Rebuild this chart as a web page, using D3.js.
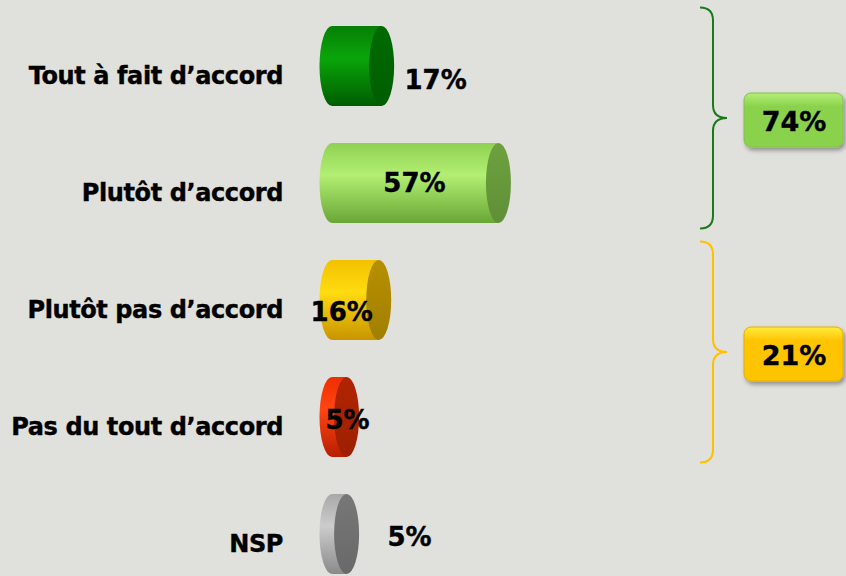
<!DOCTYPE html>
<html>
<head>
<meta charset="utf-8">
<script src="https://cdn.jsdelivr.net/npm/d3@7"></script>
<style>
  html, body { margin: 0; padding: 0; background: #e0e0dc; }
  svg { display: block; }
  text { font-family: "DejaVu Sans", Verdana, sans-serif; font-weight: bold; fill: #000; stroke: #000; stroke-width: 0.4px; }
</style>
</head>
<body>
<div id="chart"></div>
<script>
// Data
var categories = ["Tout à fait d’accord", "Plutôt d’accord", "Plutôt pas d’accord", "Pas du tout d’accord", "NSP"];
var values = [17, 57, 16, 5, 5];
// groups shown with a brace + total box (indexes into categories)
var groups = [[0, 1], [2, 3]];

// Colours: body gradient (top, light, bottom) and end cap
var bodyColors = [
  ["#067f06", "#0aa50a", "#005c00"],
  ["#8fd154", "#b2ef72", "#6aa636"],
  ["#f2c100", "#ffdb10", "#c89400"],
  ["#ee2e00", "#ff4512", "#b81e00"],
  ["#a8a8a8", "#cccccc", "#8a8a8a"]
];
var capColors = ["#006500", "#679a3b", "#ad8800", "#a82200", "#717171"];
var groupColors = [
  {stroke: "#1a7a1a", top: "#b4ee78", bottom: "#8ad24c", border: "#86c04a"},
  {stroke: "#ffc000", top: "#ffec40", bottom: "#ffc400", border: "#e0b000"}
];
// value label shift from the end of the bar (layout, as placed in the original)
var labelShift = [[54, 14], [-84, 0], [-37, 12], [1, 3], [63, 3]];

var width = 846, height = 576;
var rx = 12.5, barH = 80;

var svg = d3.select("#chart").append("svg")
  .attr("width", width)
  .attr("height", height);

svg.append("rect").attr("width", width).attr("height", height).attr("fill", "#e0e0dc");

var defs = svg.append("defs");

var x = d3.scaleLinear().domain([0, 100]).range([332, 624]);
var y = d3.scalePoint().domain(categories).range([66, 534]);
var step = y.step();

// gradients for each bar
categories.forEach(function(c, i){
  var g = defs.append("linearGradient")
    .attr("id", "body" + i)
    .attr("x1", 0).attr("y1", 0).attr("x2", 0).attr("y2", 1);
  g.append("stop").attr("offset", "0%").attr("stop-color", bodyColors[i][0]);
  g.append("stop").attr("offset", "40%").attr("stop-color", bodyColors[i][1]);
  g.append("stop").attr("offset", "100%").attr("stop-color", bodyColors[i][2]);

  var cg = defs.append("linearGradient")
    .attr("id", "cap" + i)
    .attr("x1", 0).attr("y1", 0).attr("x2", 0).attr("y2", 1);
  cg.append("stop").attr("offset", "0%").attr("stop-color", d3.color(capColors[i]).brighter(0.15));
  cg.append("stop").attr("offset", "100%").attr("stop-color", d3.color(capColors[i]).darker(0.2));
});

groupColors.forEach(function(gc, i){
  var g = defs.append("linearGradient")
    .attr("id", "box" + i)
    .attr("x1", 0).attr("y1", 0).attr("x2", 0).attr("y2", 1);
  g.append("stop").attr("offset", "0%").attr("stop-color", gc.top);
  g.append("stop").attr("offset", "25%").attr("stop-color", gc.bottom);
  g.append("stop").attr("offset", "100%").attr("stop-color", gc.bottom);
});

var shadow = defs.append("filter").attr("id", "shadow")
  .attr("x", "-20%").attr("y", "-20%").attr("width", "150%").attr("height", "160%");
shadow.append("feDropShadow")
  .attr("dx", 2).attr("dy", 3).attr("stdDeviation", 2)
  .attr("flood-color", "#000").attr("flood-opacity", 0.35);

// Category labels
svg.selectAll(".cat")
  .data(categories)
  .enter()
  .append("text")
  .attr("class", "cat")
  .attr("x", 283)
  .attr("y", function(d){ return y(d) + 18; })
  .attr("text-anchor", "end")
  .style("font-size", "24px")
  .style("letter-spacing", "-0.4px")
  .text(function(d){ return d; });

// Cylinders
var bars = svg.selectAll(".bar")
  .data(values)
  .enter()
  .append("g")
  .attr("class", "bar");

bars.append("path")
  .attr("d", function(d, i){
    var x0 = x(0), x1 = x(d);
    var top = y(categories[i]) - barH / 2, bot = y(categories[i]) + barH / 2;
    return "M" + x0 + "," + top + "L" + x1 + "," + top + "L" + x1 + "," + bot +
      "L" + x0 + "," + bot + "A" + rx + "," + (barH / 2) + " 0 0 1 " + x0 + "," + top + "Z";
  })
  .attr("fill", function(d, i){ return "url(#body" + i + ")"; });

bars.append("ellipse")
  .attr("cx", function(d){ return x(d); })
  .attr("cy", function(d, i){ return y(categories[i]); })
  .attr("rx", rx)
  .attr("ry", barH / 2)
  .attr("fill", function(d, i){ return "url(#cap" + i + ")"; });

// Value labels
svg.selectAll(".val")
  .data(values)
  .enter()
  .append("text")
  .attr("class", "val")
  .attr("x", function(d, i){ return x(d) + labelShift[i][0]; })
  .attr("y", function(d, i){ return y(categories[i]) + labelShift[i][1]; })
  .attr("dy", "0.36em")
  .attr("text-anchor", "middle")
  .style("font-size", "26px")
  .text(function(d){ return d + "%"; });

// Braces and total boxes
var bx0 = 700, bx1 = 713, bx2 = 727, br = 13;
groups.forEach(function(idx, gi){
  var yTop = y(categories[idx[0]]) - step / 2;
  var yBot = y(categories[idx[idx.length - 1]]) + step / 2 - 13;
  var yMid = (yTop + yBot) / 2;
  var p = d3.path();
  p.moveTo(bx0, yTop);
  p.quadraticCurveTo(bx1, yTop, bx1, yTop + br);
  p.lineTo(bx1, yMid - br);
  p.quadraticCurveTo(bx1, yMid, bx2, yMid);
  p.quadraticCurveTo(bx1, yMid, bx1, yMid + br);
  p.lineTo(bx1, yBot - br);
  p.quadraticCurveTo(bx1, yBot, bx0, yBot);
  svg.append("path")
    .attr("d", p.toString())
    .attr("fill", "none")
    .attr("stroke", groupColors[gi].stroke)
    .attr("stroke-width", 2);

  var total = d3.sum(idx, function(k){ return values[k]; });
  var boxG = svg.append("g").attr("transform", "translate(744," + (yMid + 2) + ")");
  boxG.append("rect")
    .attr("x", 0).attr("y", -27)
    .attr("width", 99).attr("height", 54)
    .attr("rx", 7)
    .attr("fill", "url(#box" + gi + ")")
    .attr("stroke", groupColors[gi].border)
    .attr("stroke-width", 1)
    .attr("filter", "url(#shadow)");
  boxG.append("text")
    .attr("x", 50)
    .attr("y", 1)
    .attr("dy", "0.36em")
    .attr("text-anchor", "middle")
    .style("font-size", "27px")
    .text(total + "%");
});
</script>
</body>
</html>
